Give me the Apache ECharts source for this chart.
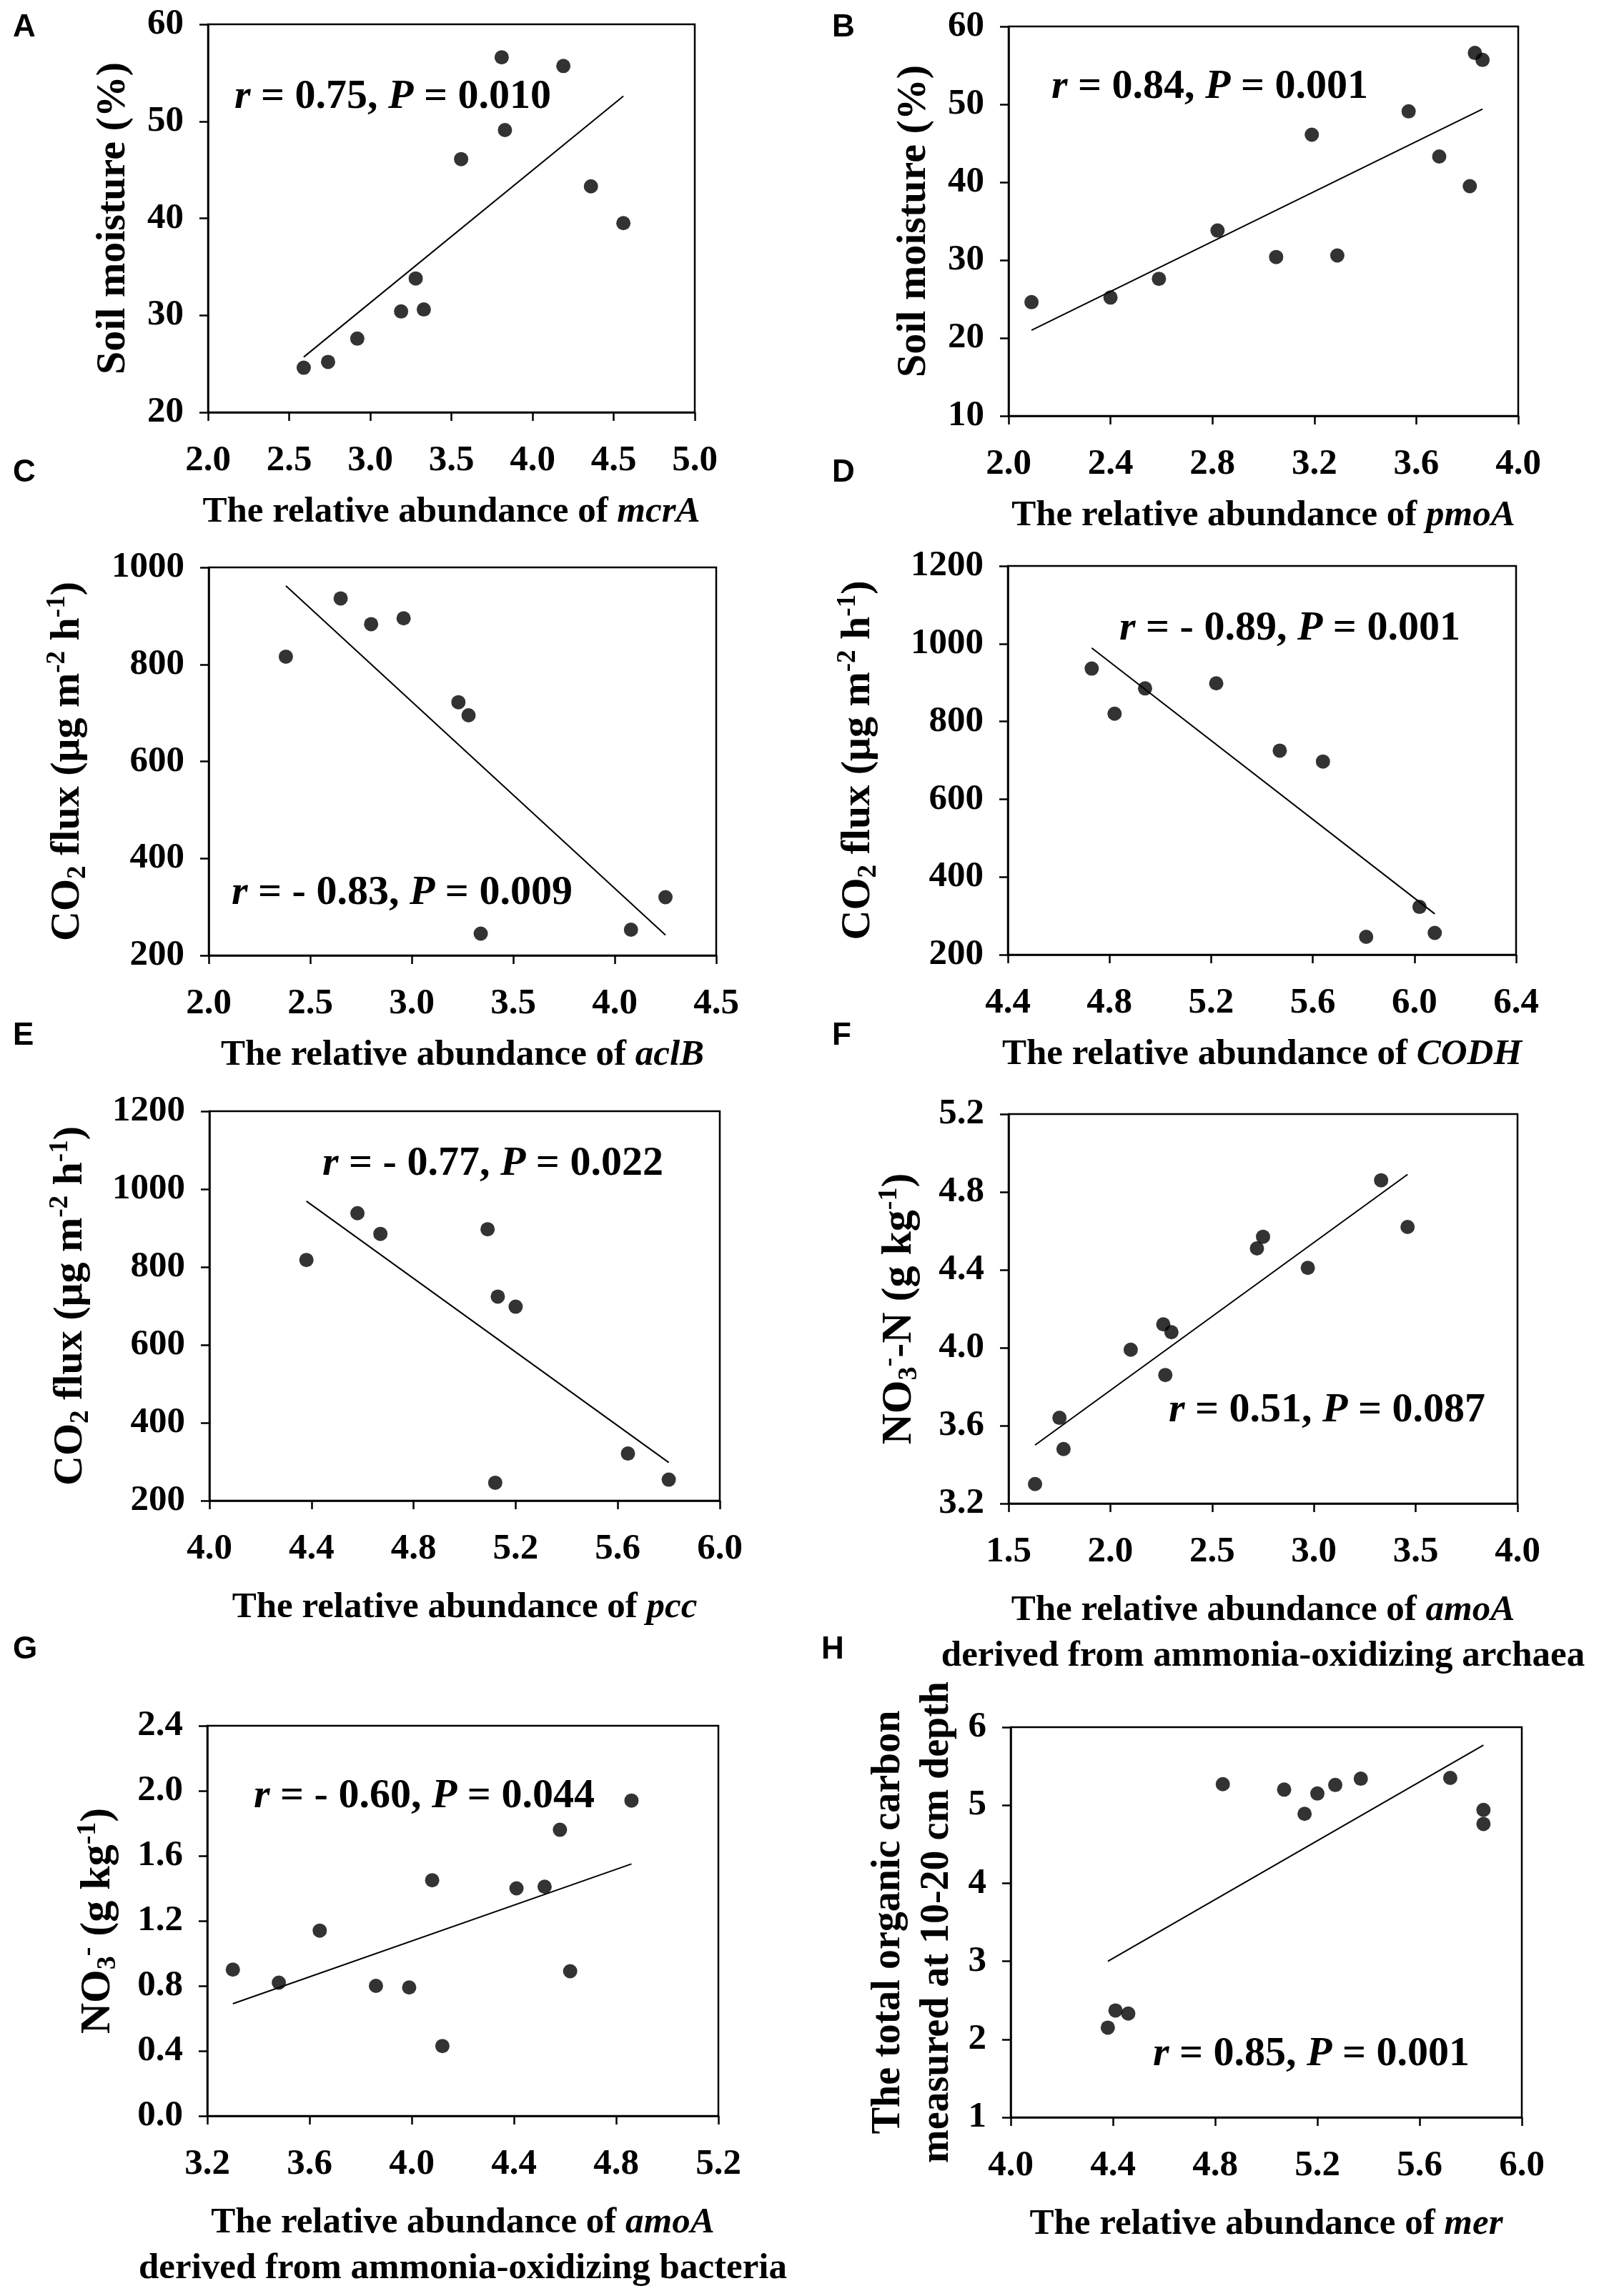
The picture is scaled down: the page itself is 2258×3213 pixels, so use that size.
<!DOCTYPE html>
<html>
<head>
<meta charset="utf-8">
<script src="https://cdn.jsdelivr.net/npm/echarts@6/dist/echarts.min.js"></script>
<style>
  html, body { margin: 0; padding: 0; background: #fff; }
  #main { width: 2258px; height: 3213px; }
</style>
</head>
<body>
<div id="main"></div>
<script>
// values
var aX = [2.59, 2.74, 2.92, 3.19, 3.28, 3.33, 3.56, 3.81, 3.83, 4.19, 4.36, 4.56];
var aY = [24.6, 25.2, 27.6, 30.4, 33.8, 30.6, 46.1, 56.6, 49.1, 55.7, 43.3, 39.5];
var aFit = [[2.59, 25.7], [4.56, 52.6]];

var bX = [2.09, 2.40, 2.59, 2.82, 3.05, 3.19, 3.29, 3.57, 3.69, 3.81, 3.83, 3.86];
var bY = [24.6, 25.2, 27.6, 33.8, 30.4, 46.1, 30.6, 49.1, 43.3, 39.5, 56.6, 55.7];
var bFit = [[2.09, 21.0], [3.86, 49.4]];

var cX = [2.38, 2.65, 2.80, 2.96, 3.23, 3.28, 3.34, 4.08, 4.25];
var cY = [816, 936, 883, 895, 722, 695, 245, 253, 320];
var cFit = [[2.38, 962], [4.25, 242]];

var dX = [4.73, 4.82, 4.94, 5.22, 5.47, 5.64, 5.81, 6.02, 6.08];
var dY = [936, 820, 885, 898, 725, 697, 246, 323, 256];
var dFit = [[4.73, 989], [6.08, 305]];

var eX = [4.38, 4.58, 4.67, 5.09, 5.13, 5.20, 5.12, 5.64, 5.80];
var eY = [818, 938, 885, 897, 724, 698, 246, 321, 254];
var eFit = [[4.38, 969], [5.80, 298]];

var fX = [1.63, 1.75, 1.77, 2.10, 2.26, 2.30, 2.27, 2.72, 2.75, 2.97, 3.33, 3.46];
var fY = [3.30, 3.64, 3.48, 3.99, 4.12, 4.08, 3.86, 4.51, 4.57, 4.41, 4.86, 4.62];
var fFit = [[1.63, 3.50], [3.46, 4.89]];

var gX = [3.30, 3.48, 3.64, 3.86, 3.99, 4.08, 4.12, 4.41, 4.52, 4.58, 4.62, 4.86];
var gY = [0.90, 0.82, 1.14, 0.80, 0.79, 1.45, 0.43, 1.40, 1.41, 1.76, 0.89, 1.94];
var gFit = [[3.30, 0.69], [4.86, 1.55]];

var hX = [4.38, 4.41, 4.46, 4.83, 5.07, 5.15, 5.20, 5.27, 5.37, 5.72, 5.85, 5.85];
var hY = [2.15, 2.37, 2.33, 5.27, 5.20, 4.89, 5.15, 5.26, 5.34, 5.35, 4.94, 4.76];
var hFit = [[4.38, 3.00], [5.85, 5.77]];

// axis ranges [min, max, interval]
var xRanges = [[2.0, 5.0, 0.5], [2.0, 4.0, 0.4], [2.0, 4.5, 0.5], [4.4, 6.4, 0.4],
               [4.0, 6.0, 0.4], [1.5, 4.0, 0.5], [3.2, 5.2, 0.4], [4.0, 6.0, 0.4]];
var yRanges = [[20, 60, 10], [10, 60, 10], [200, 1000, 200], [200, 1200, 200],
               [200, 1200, 200], [3.2, 5.2, 0.4], [0, 2.4, 0.4], [1, 6, 1]];
var yDecimals = [0, 0, 0, 0, 0, 1, 1, 0];

var letters = ['A', 'B', 'C', 'D', 'E', 'F', 'G', 'H'];
var genes = ['mcrA', 'pmoA', 'aclB', 'CODH', 'pcc', 'amoA', 'amoA', 'mer'];
var xExtra = ['', '', '', '', '', 'derived from ammonia-oxidizing archaea',
              'derived from ammonia-oxidizing bacteria', ''];
var co2 = '{n|CO}{sub|2}{n| flux (μg m}{sup|-2}{n| h}{sup|-1}{n|)}';
var yNames = ['{n|Soil moisture (%)}', '{n|Soil moisture (%)}', co2, co2, co2,
              '{n|NO}{sub|3}{sup|-}{n|-N (g kg}{sup|-1}{n|)}',
              '{n|NO}{sub|3}{sup|-}{n| (g kg}{sup|-1}{n|)}',
              '{n|The total organic carbon}\n{n|measured at 10-20 cm depth}'];
var stats = [['0.75', '0.010'], ['0.84', '0.001'], ['- 0.83', '0.009'], ['- 0.89', '0.001'],
             ['- 0.77', '0.022'], ['0.51', '0.087'], ['- 0.60', '0.044'], ['0.85', '0.001']];

var xs = [aX, bX, cX, dX, eX, fX, gX, hX];
var ys = [aY, bY, cY, dY, eY, fY, gY, hY];
var fits = [aFit, bFit, cFit, dFit, eFit, fFit, gFit, hFit];

// layout in pixels
var grids = [
  [291, 34, 681, 543], [1411, 37, 713, 545],
  [292, 794, 710, 543], [1410, 792, 711, 544],
  [293, 1555, 714, 545], [1411, 1559, 712, 545],
  [290, 2415, 715, 546], [1414, 2417, 715, 546]
];
var letterPos = [[18, 17], [1164, 17], [18, 640], [1164, 640], [18, 1428], [1164, 1428], [18, 2287], [1149, 2287]];
var statPos = [[328, 136], [1471, 122], [324, 1250], [1566, 880], [451, 1629], [1635, 1974], [355, 2514], [1613, 2875]];
var xGaps = [108, 108, 108, 108, 118, 118, 118, 118];
var yGaps = [99, 99, 164, 176, 161, 120, 120, 68];
var ySizes = [58, 58, 58, 58, 58, 60, 60, 56];

var serif = "'Liberation Serif', 'Times New Roman', serif";

function richSet(size, lh) {
  return {
    n: { fontFamily: serif, fontWeight: 'bold', fontSize: size, color: '#000', lineHeight: lh },
    i: { fontFamily: serif, fontWeight: 'bold', fontStyle: 'italic', fontSize: size, color: '#000', lineHeight: lh },
    sup: { fontFamily: serif, fontWeight: 'bold', fontSize: Math.round(size * 0.64), color: '#000', verticalAlign: 'top' },
    sub: { fontFamily: serif, fontWeight: 'bold', fontSize: Math.round(size * 0.64), color: '#000', verticalAlign: 'bottom' }
  };
}

var option = {
  backgroundColor: '#fff',
  animation: false,
  grid: [], xAxis: [], yAxis: [], series: [], graphic: []
};

for (var i = 0; i < 8; i++) {
  var g = grids[i];
  option.grid.push({
    left: g[0], top: g[1], width: g[2], height: g[3],
    show: true, borderColor: '#000', borderWidth: 2.5, backgroundColor: 'transparent'
  });

  var xName = '{n|The relative abundance of }{i|' + genes[i] + '}';
  if (xExtra[i]) xName += '\n{n|' + xExtra[i] + '}';

  option.xAxis.push({
    type: 'value', gridIndex: i,
    min: xRanges[i][0], max: xRanges[i][1], interval: xRanges[i][2],
    axisLine: { show: true, onZero: false, lineStyle: { color: '#000', width: 2.5 } },
    axisTick: { show: true, inside: false, length: 12, lineStyle: { color: '#000', width: 2.5 } },
    splitLine: { show: false },
    axisLabel: {
      margin: 42, color: '#000', fontFamily: serif, fontWeight: 'bold', fontSize: 51,
      formatter: function (v) { return v.toFixed(1); }
    },
    name: xName, nameLocation: 'middle', nameGap: xGaps[i],
    nameTextStyle: { rich: richSet(51, 64) }
  });

  (function (dec) {
    option.yAxis.push({
      type: 'value', gridIndex: i,
      min: yRanges[i][0], max: yRanges[i][1], interval: yRanges[i][2],
      axisLine: { show: true, onZero: false, lineStyle: { color: '#000', width: 2.5 } },
      axisTick: { show: true, inside: false, length: 12, lineStyle: { color: '#000', width: 2.5 } },
      splitLine: { show: false },
      axisLabel: {
        margin: 34, color: '#000', fontFamily: serif, fontWeight: 'bold', fontSize: 51,
        formatter: function (v) { return v.toFixed(dec); }
      },
      name: yNames[i], nameLocation: 'middle', nameGap: yGaps[i],
      nameTextStyle: { rich: richSet(ySizes[i], i === 7 ? 68 : 66) }
    });
  })(yDecimals[i]);

  var pts = xs[i].map(function (x, k) { return [x, ys[i][k]]; });
  option.series.push({
    type: 'scatter', xAxisIndex: i, yAxisIndex: i,
    symbol: 'circle', symbolSize: 20,
    itemStyle: { color: '#000' },
    data: pts
  });
  option.series.push({
    type: 'line', xAxisIndex: i, yAxisIndex: i,
    showSymbol: false, symbol: 'none',
    lineStyle: { color: '#000', width: 2 },
    data: fits[i]
  });

  option.graphic.push({
    type: 'text', x: letterPos[i][0], y: letterPos[i][1],
    style: {
      text: letters[i], fill: '#000',
      font: "bold 44px 'Liberation Sans', Arial, sans-serif",
      align: 'left', verticalAlign: 'top'
    }
  });
  option.graphic.push({
    type: 'text', x: statPos[i][0], y: statPos[i][1],
    style: {
      text: '{i|r}{n| = ' + stats[i][0] + ', }{i|P}{n| = ' + stats[i][1] + '}',
      rich: richSet(58, 68),
      align: 'left', verticalAlign: 'middle'
    }
  });
}

var chart = echarts.init(document.getElementById('main'));
chart.setOption(option);
</script>
</body>
</html>
